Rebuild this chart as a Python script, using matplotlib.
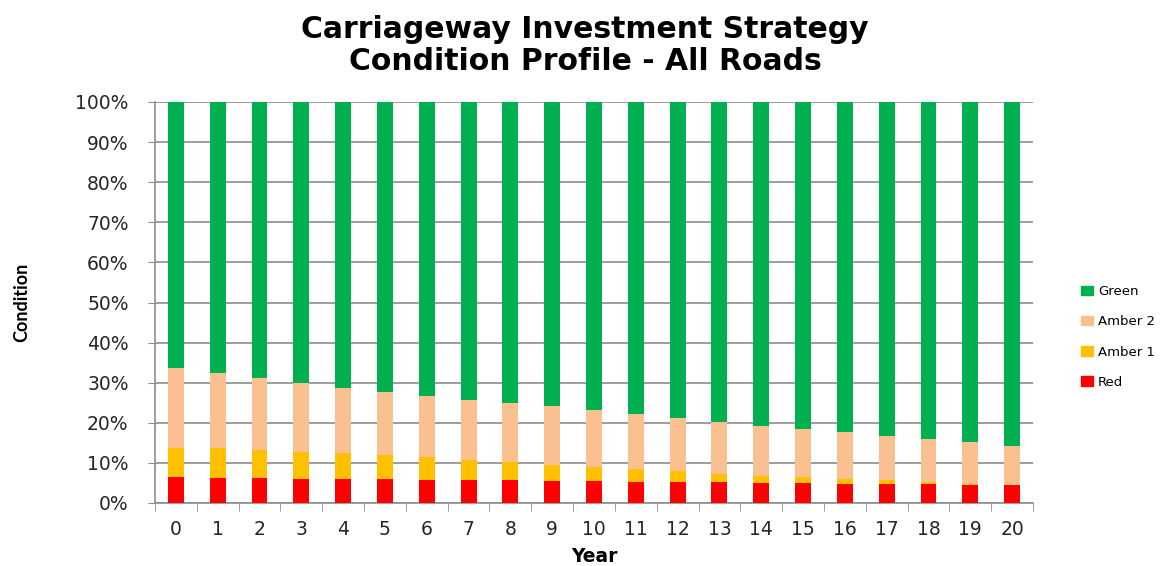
import numpy as np
import matplotlib
matplotlib.use("Agg")
import matplotlib.pyplot as plt
from matplotlib.patches import Patch
from matplotlib.ticker import FuncFormatter, MultipleLocator

# Data (percent of network)
years = list(range(21))
red = [6.4, 6.2, 6.2, 5.9, 5.9, 5.9, 5.7, 5.7, 5.7, 5.4, 5.4,
       5.2, 5.2, 5.2, 4.9, 4.9, 4.7, 4.7, 4.7, 4.4, 4.4]
amber1_top = [13.7, 13.7, 13.2, 12.8, 12.4, 11.9, 11.4, 10.7, 10.2, 9.5, 9.0,
              8.6, 8.1, 7.3, 6.8, 6.4, 5.9, 5.7, 5.2, 4.7, 4.4]
amber2_top = [33.6, 32.4, 31.2, 30.0, 28.8, 27.8, 26.8, 25.8, 24.9, 24.2, 23.3,
              22.3, 21.3, 20.3, 19.3, 18.4, 17.7, 16.7, 16.0, 15.3, 14.3]

red = np.array(red)
amber1 = np.array(amber1_top) - red
amber2 = np.array(amber2_top) - np.array(amber1_top)
green = 100 - np.array(amber2_top)

c_green = "#00B050"
c_amber2 = "#FAC090"
c_amber1 = "#FFC000"
c_red = "#FF0000"
txt = "#262626"

plt.rcParams['font.family'] = ['DejaVu Sans']

fig = plt.figure(figsize=(11.7, 5.66), dpi=100)
ax = fig.add_axes([155/1170, 1 - 503/566, (1033-155)/1170, (503-102)/566])

w = 0.38
x = np.arange(len(years))
ax.bar(x, red, w, color=c_red, zorder=3)
ax.bar(x, amber1, w, bottom=red, color=c_amber1, zorder=3)
ax.bar(x, amber2, w, bottom=red + amber1, color=c_amber2, zorder=3)
ax.bar(x, green, w, bottom=red + amber1 + amber2, color=c_green, zorder=3)

ax.set_xlim(-0.5, len(years) - 0.5)
ax.set_ylim(0, 100)
ax.yaxis.set_major_locator(MultipleLocator(10))
ax.yaxis.set_major_formatter(FuncFormatter(lambda v, p: f"{v:.0f}%"))
ax.grid(axis="y", color="#8c8c8c", linewidth=1.2, zorder=0)

ax.set_xticks(x)
ax.set_xticklabels([str(y) for y in years])
ax.set_xticks(np.arange(-0.5, len(years)), minor=True)
ax.tick_params(axis="x", which="major", length=0, labelsize=13.5, pad=12, labelcolor=txt)
ax.tick_params(axis="x", which="minor", length=6, color="#8c8c8c")
ax.tick_params(axis="y", length=5, color="#8c8c8c", labelsize=13.5, pad=14, labelcolor=txt)

for s in ["top", "right"]:
    ax.spines[s].set_visible(False)
for s in ["left", "bottom"]:
    ax.spines[s].set_color("#8c8c8c")
    ax.spines[s].set_linewidth(1.2)

ax.set_xlabel("Year", fontsize=13.5, fontweight="bold", labelpad=6)
fig.text(22/1170, 1 - 302/566, "Condition", rotation=90, fontsize=13,
         fontweight="bold", ha="center", va="center", family="Lato")

fig.text(0.5, 1 - 29/566, "Carriageway Investment Strategy", fontsize=21.5,
         fontweight="bold", ha="center", va="center")
fig.text(0.5, 1 - 61/566, "Condition Profile - All Roads", fontsize=21.5,
         fontweight="bold", ha="center", va="center")

handles = [Patch(color=c_green, label="Green"),
           Patch(color=c_amber2, label="Amber 2"),
           Patch(color=c_amber1, label="Amber 1"),
           Patch(color=c_red, label="Red")]
fig.legend(handles=handles, loc="center left", bbox_to_anchor=(1069/1170, 1 - 337/566),
           frameon=False, fontsize=9.5, labelspacing=1.3, handlelength=0.9,
           handleheight=0.7, handletextpad=0.4)

fig.savefig("out.png", dpi=100)
